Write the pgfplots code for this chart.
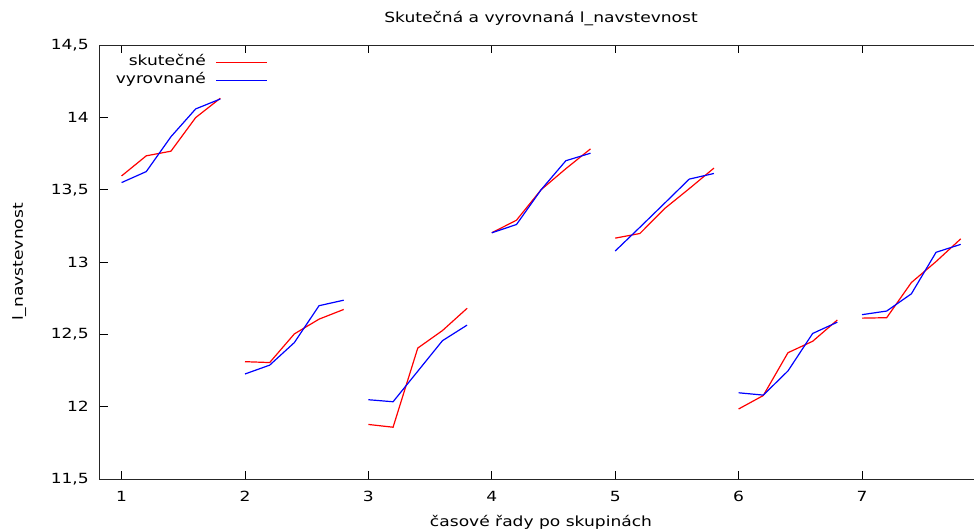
\documentclass[border=0pt]{standalone}
\usepackage{fontspec}
\setmainfont{DejaVu Sans}[FakeStretch=1.22]
\usepackage{pgfplots}
\pgfplotsset{compat=1.18}
\definecolor{gred}{RGB}{255,0,0}
\definecolor{gblue}{RGB}{0,0,255}
\begin{document}
\fontsize{14}{16}\selectfont
\begin{tikzpicture}[x=1pt,y=1pt]
\path[use as bounding box] (-100,-52) rectangle (874,479);
\begin{axis}[
  at={(0,0)}, anchor=south west,
  scale only axis, width=878pt, height=434pt,
  xmin=0.825, xmax=7.94, ymin=11.5, ymax=14.5,
  xtick={1,2,3,4,5,6,7},
  ytick={11.5,12,12.5,13,13.5,14,14.5},
  ytick pos=left,
  minor tick num=0,
  tick align=inside, major tick length=8pt,
  tick style={black, line width=0.8pt},
  axis line style={black!85, line width=1pt},
  /pgf/number format/.cd, use comma, 1000 sep={}, assume math mode=true,
  /pgfplots/.cd,
  yticklabel style={anchor=east, inner sep=0pt, xshift=-11pt},
  xticklabel style={anchor=north, inner sep=0pt, yshift=-12pt},
  every axis title/.style={at={(axis description cs:0.5,1.0507)}, anchor=base, xshift=2pt},
  title={Skutečná a vyrovnaná l\_navstevnost},
  every axis x label/.style={at={(axis description cs:0.5,-0.1083)}, anchor=base, xshift=2pt},
  xlabel={časové řady po skupinách},
  every axis y label/.style={at={(axis description cs:-0.0877,0.5)}, anchor=base, rotate=90},
  ylabel={l\_navstevnost},
  unbounded coords=jump,
  legend plot pos=right,
  legend cell align=right,
  legend image code/.code={\draw[#1] (0pt,0pt) -- (51pt,0pt);},
  legend style={at={(axis description cs:0.018,0.9747)}, anchor=north west,
    draw=none, fill=none, inner sep=0pt, outer sep=0pt,
    row sep=5pt, /tikz/column sep=10pt,
    nodes={inner sep=0pt, text height=10pt, text depth=3pt}},
]
\addplot[gred, line width=1.2pt] coordinates {
(1.0,13.595) (1.2,13.734) (1.4,13.766) (1.6,13.998) (1.8,14.132) (1.9,nan)
(2.0,12.311) (2.2,12.305) (2.4,12.503) (2.6,12.605) (2.8,12.672) (2.9,nan)
(3.0,11.877) (3.2,11.858) (3.4,12.405) (3.6,12.526) (3.8,12.680) (3.9,nan)
(4.0,13.202) (4.2,13.289) (4.4,13.500) (4.6,13.645) (4.8,13.782) (4.9,nan)
(5.0,13.165) (5.2,13.197) (5.4,13.369) (5.6,13.507) (5.8,13.649) (5.9,nan)
(6.0,11.984) (6.2,12.077) (6.4,12.373) (6.6,12.452) (6.8,12.599) (6.9,nan)
(7.0,12.612) (7.2,12.615) (7.4,12.858) (7.6,13.003) (7.8,13.160)
};
\addlegendentry{skutečné}
\addplot[gblue, line width=1.2pt] coordinates {
(1.0,13.549) (1.2,13.625) (1.4,13.866) (1.6,14.058) (1.8,14.127) (1.9,nan)
(2.0,12.226) (2.2,12.287) (2.4,12.443) (2.6,12.698) (2.8,12.736) (2.9,nan)
(3.0,12.048) (3.2,12.034) (3.4,12.245) (3.6,12.456) (3.8,12.564) (3.9,nan)
(4.0,13.202) (4.2,13.259) (4.4,13.500) (4.6,13.700) (4.8,13.752) (4.9,nan)
(5.0,13.076) (5.2,13.240) (5.4,13.406) (5.6,13.573) (5.8,13.612) (5.9,nan)
(6.0,12.096) (6.2,12.080) (6.4,12.247) (6.6,12.506) (6.8,12.584) (6.9,nan)
(7.0,12.636) (7.2,12.661) (7.4,12.780) (7.6,13.067) (7.8,13.122)
};
\addlegendentry{vyrovnané}
\end{axis}
\end{tikzpicture}
\end{document}
